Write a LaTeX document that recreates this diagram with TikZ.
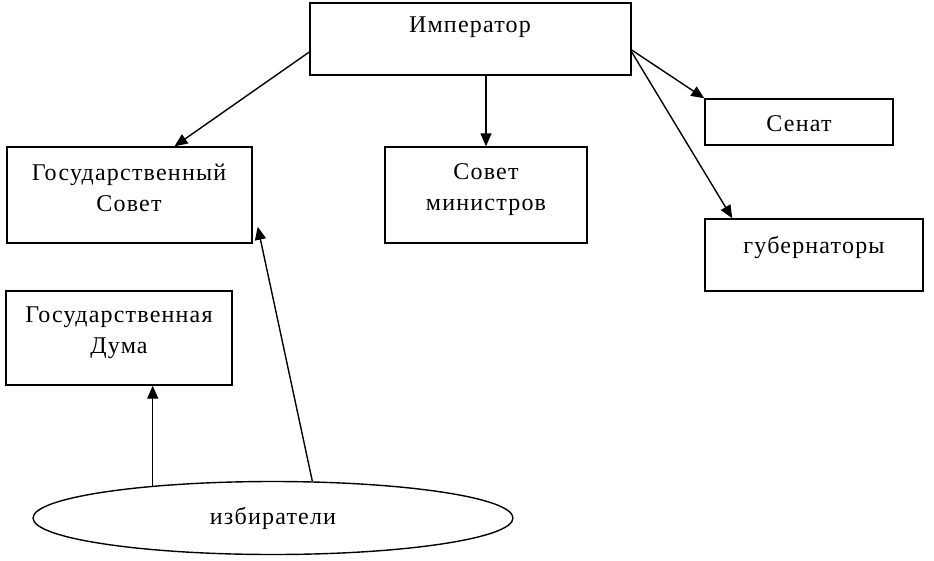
\documentclass[tikz,border=0pt]{standalone}
\usepackage{fontspec}
\setmainfont{Liberation Serif}[LetterSpace=5]
\usetikzlibrary{arrows.meta,shapes.geometric}
\tikzset{>={Triangle[length=13pt,width=11pt]}}
\tikzset{
	box/.style={draw, line width=1.4pt, inner sep=0pt},
	lbl/.style={font=\fontsize{24}{31}\selectfont, align=center}
}

\begin{document}
\begin{tikzpicture}[x=1pt,y=-1pt,line width=1.4pt]
\useasboundingbox (0,0) rectangle (934,560);

% Emperor
\node[box, minimum width=321, minimum height=72] (imp) at (470.5,39) {};
\node[lbl] (impt) at (470,27) {Император};

% councils
\node[box, minimum width=245, minimum height=96] (gs) at (129.5,195) {};
\node[lbl] (gst) at (129,188) {Государственный\\Совет};

\node[box, minimum width=202, minimum height=96] (sm) at (486,195) {};
\node[lbl] (smt) at (486,190) {Совет\\министров};

% right side
\node[box, minimum width=188, minimum height=46] (sen) at (799,122) {};
\node[lbl] (sent) at (799,124) {Сенат};

\node[box, minimum width=218, minimum height=72] (gub) at (814,255) {};
\node[lbl] (gubt) at (814,247) {губернаторы};

% Duma
\node[box, minimum width=226, minimum height=94] (duma) at (119,338) {};
\node[lbl] (dumat) at (119,333) {Государственная\\Дума};

% voters
\node[draw, ellipse, line width=1.4pt, minimum width=480, minimum height=73,
	font=\fontsize{24}{31}\selectfont] (el) at (273,518) {избиратели};

% arrows
\draw[->] ([yshift=-13]imp.west) -- ([xshift=45]gs.north);
\draw[->] (imp.south -| sm.north) -- (sm.north);
\draw[->] ([yshift=-11]imp.east) -- (sen.north west);
\draw[->] ([yshift=-13]imp.east) -- ([xshift=28]gub.north west);
\draw[->] (el.165) -- (el.165 |- duma.south);
\draw[->] (el.43) -- ([shift={(5,-17)}]gs.south east);

\end{tikzpicture}
\end{document}
